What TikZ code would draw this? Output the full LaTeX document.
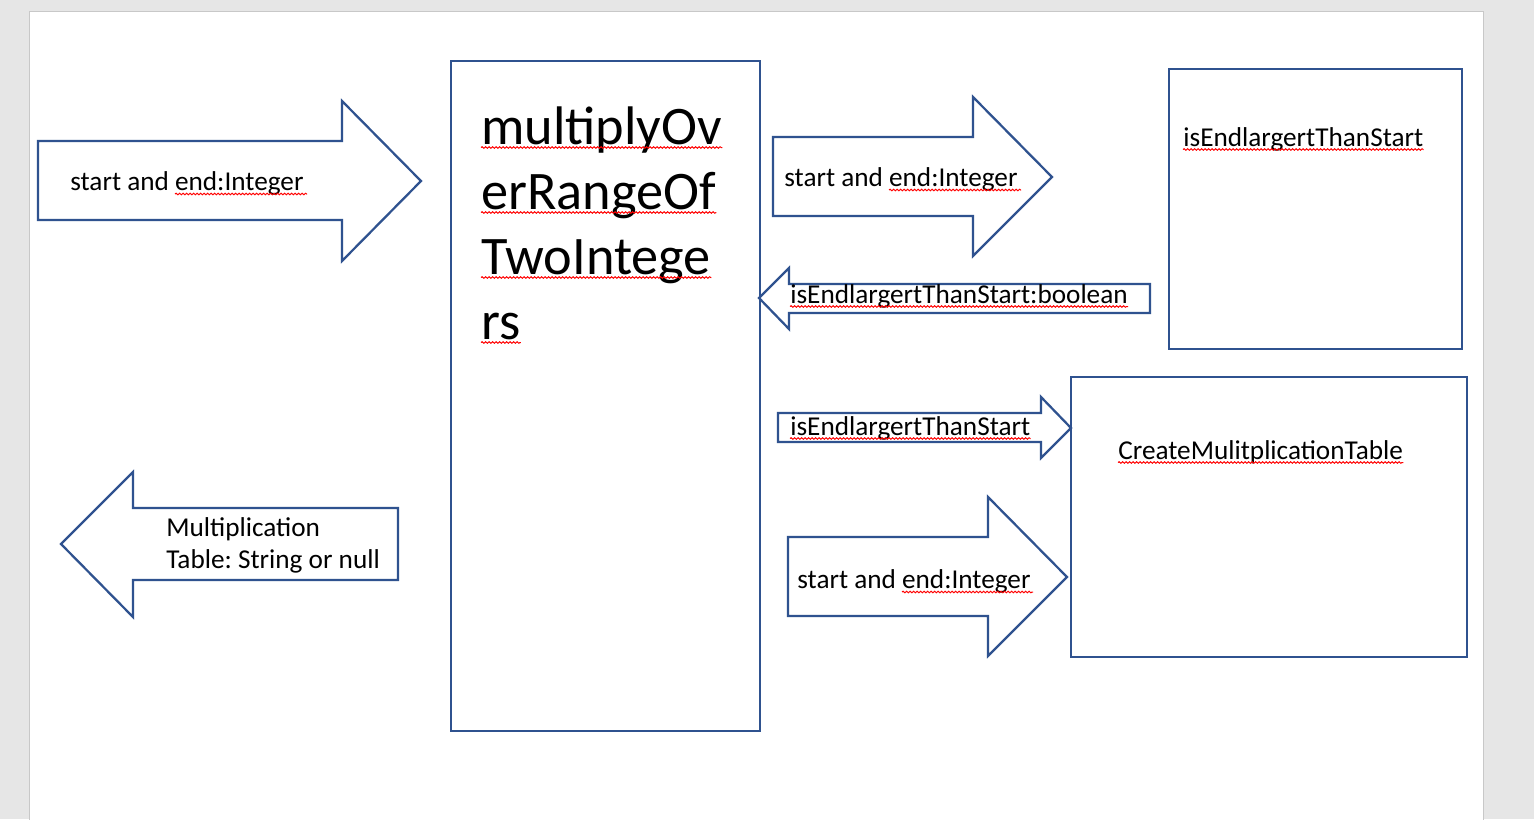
\documentclass[tikz,border=0pt]{standalone}
\usepackage{fontspec}
\setmainfont{Carlito}
\frenchspacing
\usetikzlibrary{decorations.pathmorphing}
\definecolor{lineblue}{HTML}{2F528F}
\definecolor{deskgray}{HTML}{E6E6E6}
\definecolor{pageedge}{HTML}{C8C8C8}
\tikzset{
  shapeline/.style={draw=lineblue, line width=0.045cm},
  lbl/.style={inner sep=0pt, anchor=base west, font=\fontsize{15.5}{18.6}\selectfont},
  biglbl/.style={inner sep=0pt, anchor=base west, font=\fontsize{30.9}{37}\selectfont},
  spell/.style={draw=red, line width=0.02cm, decorate,
    decoration={snake, amplitude=0.015cm, segment length=0.07cm}},
}
\begin{document}
\begin{tikzpicture}[x=0.02cm, y=-0.02cm]
  \useasboundingbox (0,0) rectangle (1534,819);
  % page
  \fill[deskgray] (0,0) rectangle (1534,819);
  \filldraw[fill=white, draw=pageedge, line width=0.03cm] (29.5,11.5) rectangle (1483.5,830);

  % boxes
  \draw[shapeline] (451,61) rectangle (760,731);
  \draw[shapeline] (1169,69) rectangle (1462,349);
  \draw[shapeline] (1071,377) rectangle (1467,657);

  % block arrows
  \draw[shapeline] (38,141) -- (342,141) -- (342,101) -- (421,181) -- (342,261) -- (342,220) -- (38,220) -- cycle;
  \draw[shapeline] (773,137) -- (973,137) -- (973,97) -- (1052,177) -- (973,256) -- (973,216) -- (773,216) -- cycle;
  \draw[shapeline] (759,298) -- (789,268) -- (789,284) -- (1150,284) -- (1150,313) -- (789,313) -- (789,329) -- cycle;
  \draw[shapeline] (778,413) -- (1041,413) -- (1041,397) -- (1071,428) -- (1041,458) -- (1041,442) -- (778,442) -- cycle;
  \draw[shapeline] (788,537) -- (988,537) -- (988,497) -- (1067,577) -- (988,656) -- (988,616) -- (788,616) -- cycle;
  \draw[shapeline] (61,544) -- (133,472) -- (133,508) -- (398,508) -- (398,580) -- (133,580) -- (133,617) -- cycle;

  % main function name
  \foreach \txt [count=\i from 0] in {multiplyOv, erRangeOf, TwoIntege, rs} {
    \node[biglbl] (ttl\i) at (481,144+65*\i) {\txt};
    \draw[spell] ([yshift=-0.07cm]ttl\i.base west) -- ([yshift=-0.07cm]ttl\i.base east);
  }

  % labels
  \node[lbl] (in1) at (70,190) {start and end:Integer};
  \node[lbl] (in2) at (784,186) {start and end:Integer};
  \node[lbl] (in3) at (797,588) {start and end:Integer};
  \node[lbl] (chk) at (1183,146) {isEndlargertThanStart};
  \node[lbl] (res) at (790,303) {isEndlargertThanStart:boolean};
  \node[lbl] (flag) at (790,435) {isEndlargertThanStart};
  \node[lbl] (tbl) at (1118,459) {CreateMulitplicationTable};
  \node[lbl] (out1) at (166,536) {Multiplication};
  \node[lbl] (out2) at (166,568) {Table: String or null};

  % spell marks
  \draw[spell] (175,194) -- (307,194);
  \draw[spell] (889,190) -- (1021,190);
  \draw[spell] (902,592) -- (1033,592);
  \foreach \n in {chk, res, flag, tbl}
    \draw[spell] ([yshift=-0.07cm]\n.base west) -- ([yshift=-0.07cm]\n.base east);
\end{tikzpicture}
\end{document}
